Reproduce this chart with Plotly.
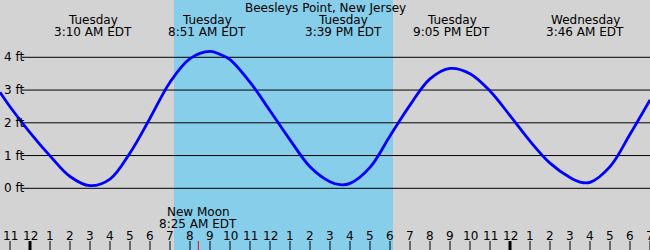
import plotly.graph_objects as go

# ---- data ----
hours = [-1.5, -1, 0, 1, 2, 3, 4, 5, 6, 7, 8, 9, 9.5, 10, 11, 12, 13, 14, 15,
         15.5, 16, 17, 18, 19, 20, 21, 22, 23, 24, 25, 26, 27, 27.5, 28, 29, 30, 31]
heights = [2.93, 2.49, 1.70, 0.99, 0.36, 0.08, 0.28, 1.08, 2.14, 3.24, 3.96, 4.18, 4.09,
           3.93, 3.24, 2.37, 1.48, 0.66, 0.20, 0.11, 0.15, 0.64, 1.60, 2.54, 3.34, 3.66,
           3.50, 2.97, 2.22, 1.44, 0.77, 0.33, 0.19, 0.18, 0.66, 1.65, 2.70]

grid_ft = [0, 1, 2, 3, 4]
grid_labels = ["0 ft", "1 ft", "2 ft", "3 ft", "4 ft"]

event_hours = [3.167, 8.85, 15.65, 21.083, 27.767]
event_days = ["Tuesday", "Tuesday", "Tuesday", "Tuesday", "Wednesday"]
event_times = ["3:10 AM EDT", "8:51 AM EDT", "3:39 PM EDT", "9:05 PM EDT", "3:46 AM EDT"]

sunrise_h = 7.2
sunset_h = 18.15

moon_h = 8.417
moon_lines = ["New Moon", "8:25 AM EDT"]

tick_hours = list(range(-1, 32))
tick_labels = ["11", "12", "1", "2", "3", "4", "5", "6", "7", "8", "9", "10", "11",
               "12", "1", "2", "3", "4", "5", "6", "7", "8", "9", "10", "11",
               "12", "1", "2", "3", "4", "5", "6", "7"]
midnight_hours = [0, 24]

title = "Beesleys Point, New Jersey"

# ---- figure ----
W, H = 650, 250
FONT = "DejaVu Sans"
fig = go.Figure()

fig.add_trace(go.Scatter(x=hours, y=heights, mode="lines",
                         line=dict(color="#0000ff", width=2.8, shape="spline", smoothing=1.0),
                         hoverinfo="skip", showlegend=False))

shapes = []
# daylight band
shapes.append(dict(type="rect", xref="x", yref="paper", x0=sunrise_h, x1=sunset_h, y0=0, y1=1,
                   fillcolor="#87ceeb", line=dict(width=0), layer="below"))
# grid lines
for v in grid_ft:
    shapes.append(dict(type="line", xref="paper", yref="y", x0=22 / W, x1=1, y0=v, y1=v,
                       line=dict(color="black", width=1), layer="below"))
# hour ticks
for h in tick_hours:
    wdt = 3 if h in midnight_hours else 1
    shapes.append(dict(type="line", xref="x", yref="paper", x0=h, x1=h, y0=0, y1=9 / H,
                       line=dict(color="black", width=wdt)))
shapes.append(dict(type="line", xref="x", yref="paper", x0=moon_h, x1=moon_h, y0=0, y1=9 / H,
                   line=dict(color="red", width=1)))

ann = []
def txt(x, y_px, s, xref="x", xanchor="center", xshift=0):
    ann.append(dict(x=x, xref=xref, y=1 - y_px / H, yref="paper", text=s, showarrow=False,
                    xanchor=xanchor, yanchor="middle", xshift=xshift,
                    font=dict(family=FONT, size=12, color="black")))

txt(0.5, 8, title, xref="paper")
for h, d, t in zip(event_hours, event_days, event_times):
    txt(h, 20, d)
    txt(h, 32, t)
txt(moon_h, 212, moon_lines[0])
txt(moon_h, 224, moon_lines[1])
for h, l in zip(tick_hours, tick_labels):
    txt(h, 236, l)
for v, l in zip(grid_ft, grid_labels):
    ann.append(dict(x=0, xref="paper", y=v, yref="y", text=l, showarrow=False,
                    xanchor="left", yanchor="middle", xshift=2,
                    font=dict(family=FONT, size=12, color="black")))

fig.update_layout(
    width=W, height=H, margin=dict(l=0, r=0, t=0, b=0),
    paper_bgcolor="#d3d3d3", plot_bgcolor="#d3d3d3",
    xaxis=dict(range=[-1.5, 31], visible=False, fixedrange=True),
    yaxis=dict(range=[-1.884, 5.75], visible=False, fixedrange=True),
    shapes=shapes, annotations=ann, showlegend=False,
)

fig.write_html("out.html", config={"displayModeBar": False})
